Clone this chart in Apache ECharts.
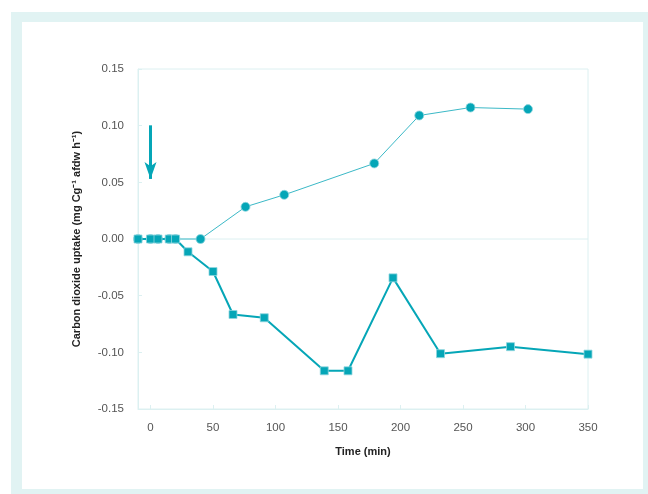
<!DOCTYPE html>
<html>
<head>
<meta charset="utf-8">
<script src="https://cdn.jsdelivr.net/npm/echarts@6/dist/echarts.min.js"></script>
<style>
html, body { margin: 0; padding: 0; background: #fff; }
#chart { width: 648px; height: 494px; }
</style>
</head>
<body>
<div id="chart"></div>
<script>
// time (min) and CO2 uptake values
var circleTime = [-10, 0, 6, 15, 20, 40, 76, 107, 179, 215, 256, 302];
var circleVal = [0, 0, 0, 0, 0, 0, 0.0284, 0.039, 0.0667, 0.109, 0.116, 0.1146];
var squareTime = [-10, 0, 6, 15, 20, 30, 50, 66, 91, 139, 158, 194, 232, 288, 350];
var squareVal = [0, 0, 0, 0, 0, -0.0113, -0.0287, -0.0666, -0.0695, -0.1163, -0.1163, -0.0343, -0.1012, -0.095, -0.1016];
var xTicks = [0, 50, 100, 150, 200, 250, 300, 350];
var arrowFrom = [0, 0.1003];
var arrowTo = [0, 0.053];

var teal = '#05a6b7';
var axisColor = '#dcf0f1';
var font = 'Liberation Sans, Arial, Helvetica, sans-serif';

function pairs(xs, ys) {
    return xs.map(function(x, i) {
        return [x, ys[i]];
    });
}

var myChart = echarts.init(document.getElementById('chart'));
myChart.setOption({
    animation: false,
    backgroundColor: '#fff',
    graphic: [
        {type: 'rect', silent: true, z: -10, shape: {x: 11, y: 12, width: 637, height: 482}, style: {fill: '#e1f3f3'}},
        {type: 'rect', silent: true, z: -9, shape: {x: 22, y: 22, width: 621, height: 467}, style: {fill: '#fff'}}
    ],
    grid: {left: 138, right: 60, top: 69, bottom: 85, show: true, borderColor: axisColor, borderWidth: 1, backgroundColor: 'transparent'},
    xAxis: {
        type: 'value',
        min: -10,
        max: 350,
        name: 'Time (min)',
        nameLocation: 'middle',
        nameGap: 37,
        nameTextStyle: {fontFamily: font, fontSize: 11, fontWeight: 'bold', color: '#222'},
        axisLine: {show: true, onZero: false, lineStyle: {color: axisColor, width: 1}},
        axisTick: {show: true, inside: true, length: 4, lineStyle: {color: axisColor}, customValues: xTicks},
        axisLabel: {
            fontFamily: font, fontSize: 11.5, color: '#555', margin: 13,
            customValues: xTicks
        },
        splitLine: {show: false}
    },
    yAxis: {
        type: 'value',
        min: -0.15,
        max: 0.15,
        interval: 0.05,
        name: 'Carbon dioxide uptake (mg Cg\u207B\u00B9 afdw h\u207B\u00B9)',
        nameLocation: 'middle',
        nameGap: 56,
        nameTextStyle: {fontFamily: font, fontSize: 11, fontWeight: 'bold', color: '#222'},
        axisLine: {show: true, onZero: false, lineStyle: {color: axisColor, width: 1}},
        axisTick: {show: true, inside: true, length: 4, lineStyle: {color: axisColor}},
        axisLabel: {
            fontFamily: font, fontSize: 11.5, color: '#555', margin: 14,
            formatter: function(v) { return v.toFixed(2); }
        },
        splitLine: {show: false}
    },
    series: [
        {
            type: 'line',
            name: 'circles',
            data: pairs(circleTime, circleVal),
            symbol: 'circle',
            symbolSize: 9,
            lineStyle: {color: '#3bb9c7', width: 1},
            itemStyle: {color: teal, borderColor: '#8fd6de', borderWidth: 0.8},
            z: 3,
            markLine: {
                silent: true,
                symbol: ['none', 'arrow'],
                symbolSize: [9, 17],
                label: {show: false},
                lineStyle: {color: teal, width: 3, type: 'solid'},
                data: [[{coord: arrowFrom}, {coord: arrowTo}]]
            }
        },
        {
            type: 'line',
            name: 'squares',
            data: pairs(squareTime, squareVal),
            symbol: 'rect',
            symbolSize: 8,
            lineStyle: {color: teal, width: 2},
            itemStyle: {color: teal, borderColor: '#8fd6de', borderWidth: 0.8},
            z: 4
        },
        {
            // zero reference line
            type: 'line',
            data: [[-10, 0], [350, 0]],
            symbol: 'none',
            silent: true,
            lineStyle: {color: axisColor, width: 1},
            z: 1
        }
    ]
});
</script>
</body>
</html>
